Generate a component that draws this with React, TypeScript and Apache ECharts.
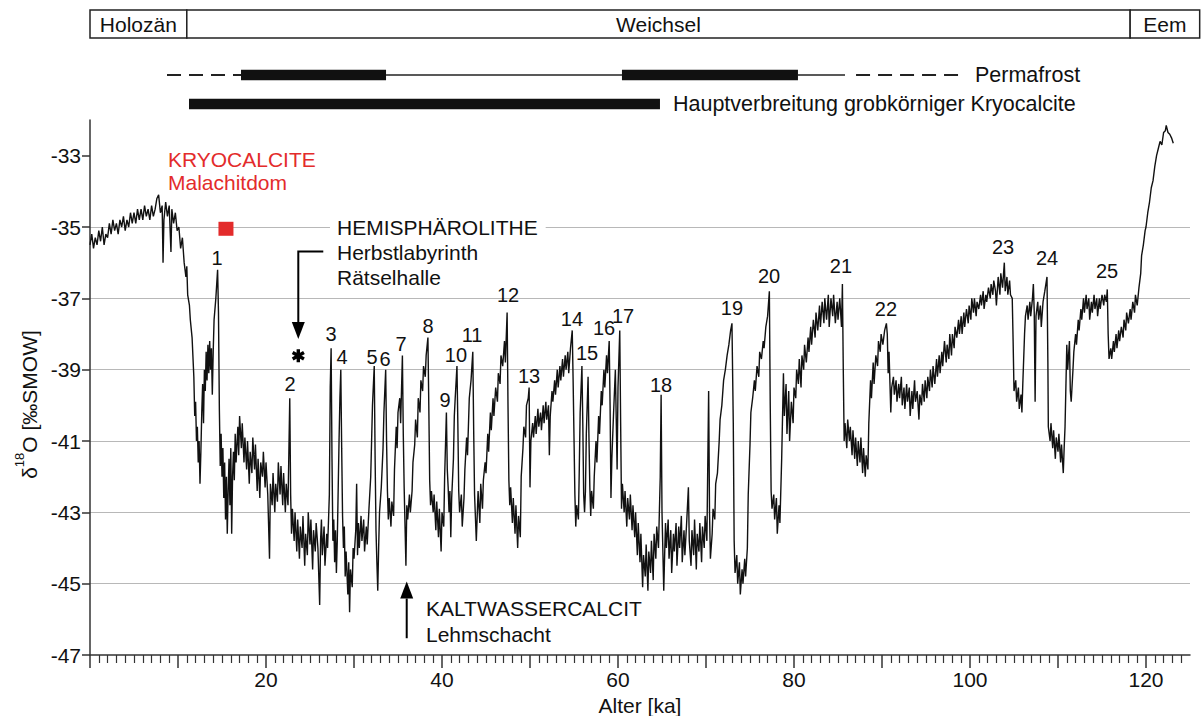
import React, { useEffect, useRef } from 'react';
import * as echarts from 'echarts';

const FONT = '"Liberation Sans", Arial, Helvetica, sans-serif';
const INK = '#111';
const RED = '#e32b2b';

// ---- δ18O record [age ka, δ18O ‰ SMOW] ----
const record0to20 = [
  [0.0,-35.5],[0.2,-35.2],[0.4,-35.6],[0.6,-35.3],[0.8,-35.5],[1.0,-35.1],[1.2,-35.4],[1.4,-35.0],[1.6,-35.5],[1.8,-35.2],
  [2.0,-35.3],[2.2,-34.9],[2.4,-35.2],[2.6,-34.8],[2.8,-35.1],[3.0,-34.9],[3.2,-35.2],[3.4,-34.8],[3.6,-35.0],[3.8,-34.7],
  [4.0,-35.1],[4.2,-34.8],[4.4,-35.0],[4.6,-34.6],[4.8,-34.9],[5.0,-34.6],[5.2,-34.9],[5.4,-34.5],[5.6,-34.8],[5.8,-34.5],
  [6.0,-34.8],[6.2,-34.4],[6.4,-34.7],[6.6,-34.5],[6.8,-34.8],[7.0,-34.4],[7.2,-34.7],[7.4,-34.5],[7.6,-34.2],[7.8,-34.1],
  [8.0,-34.6],[8.2,-34.4],[8.3,-36.0],[8.4,-34.8],[8.6,-34.3],[8.8,-34.7],[9.0,-34.4],[9.2,-35.7],[9.3,-34.5],[9.5,-34.9],
  [9.7,-34.6],[9.9,-35.1],[10.1,-35.0],[10.3,-35.6],[10.5,-35.3],[10.7,-36.0],[10.9,-36.4],[11.0,-36.1],[11.1,-36.9],[11.3,-37.2],
  [11.4,-37.6],[11.6,-38.1],[11.8,-39.2],[11.9,-40.3],[12.0,-39.9],[12.1,-41.0],[12.2,-40.6],[12.3,-41.6],[12.4,-41.0],[12.5,-42.2],
  [12.6,-41.3],[12.7,-40.2],[12.8,-39.4],[12.9,-40.5],[13.0,-39.0],[13.1,-39.6],[13.2,-38.5],[13.3,-39.3],[13.4,-38.3],[13.5,-39.1],
  [13.6,-38.2],[13.7,-39.0],[13.8,-38.4],[13.9,-39.7],[14.0,-38.5],[14.1,-37.6],[14.3,-37.0],[14.5,-36.2],[14.6,-37.4],[14.7,-40.1],
  [14.8,-41.7],[14.9,-40.8],[15.0,-42.0],[15.1,-41.2],[15.2,-42.6],[15.3,-41.6],[15.4,-43.2],[15.5,-42.0],[15.6,-43.6],[15.7,-42.4],
  [15.8,-41.5],[15.9,-42.8],[16.0,-41.2],[16.1,-43.6],[16.2,-42.0],[16.3,-41.3],[16.4,-42.1],[16.5,-40.8],[16.6,-41.6],[16.8,-40.6],
  [16.9,-41.4],[17.0,-40.3],[17.2,-41.2],[17.3,-40.5],[17.5,-41.6],[17.6,-40.9],[17.8,-41.8],[17.9,-41.0],[18.1,-42.2],[18.2,-41.3],
  [18.4,-41.9],[18.5,-40.9],[18.7,-41.8],[18.8,-41.1],[19.0,-42.4],[19.1,-41.5],[19.3,-42.6],[19.4,-41.6],[19.6,-42.0],[19.7,-41.3],
  [19.9,-42.3],
];
const record20to40 = [
  [20.0,-41.6],[20.2,-42.5],[20.4,-44.3],[20.5,-42.2],[20.7,-42.8],[20.8,-41.9],[21.0,-43.0],[21.1,-42.2],[21.3,-42.7],[21.4,-41.6],
  [21.6,-42.5],[21.7,-41.7],[21.9,-42.8],[22.0,-41.9],[22.2,-43.0],[22.3,-42.2],[22.5,-42.8],[22.7,-39.8],[22.8,-42.5],[22.9,-43.6],
  [23.0,-42.9],[23.2,-43.8],[23.3,-43.0],[23.5,-44.1],[23.6,-43.2],[23.8,-44.3],[23.9,-43.4],[24.1,-44.0],[24.2,-43.1],[24.4,-44.5],
  [24.5,-43.6],[24.7,-44.2],[24.8,-43.0],[25.0,-43.9],[25.1,-43.2],[25.3,-44.6],[25.4,-43.5],[25.6,-44.1],[25.7,-43.3],[25.9,-44.0],
  [26.1,-45.6],[26.2,-43.8],[26.3,-43.2],[26.4,-44.2],[26.6,-43.4],[26.7,-44.5],[26.9,-43.6],[27.0,-44.0],[27.2,-42.5],[27.3,-39.5],
  [27.4,-38.4],[27.5,-41.5],[27.6,-43.8],[27.7,-43.2],[27.8,-44.4],[27.9,-43.5],[28.0,-44.7],[28.1,-43.8],[28.3,-41.0],[28.4,-39.8],
  [28.5,-39.0],[28.6,-41.2],[28.7,-43.1],[28.8,-44.0],[28.9,-43.4],[29.0,-44.8],[29.1,-44.1],[29.3,-45.3],[29.4,-44.4],[29.5,-45.8],
  [29.6,-44.6],[29.8,-45.1],[29.9,-44.0],[30.0,-44.3],[30.2,-43.5],[30.3,-42.2],[30.4,-44.2],[30.5,-43.3],[30.6,-44.0],[30.8,-43.1],
  [30.9,-43.8],[31.1,-43.2],[31.2,-44.1],[31.4,-43.4],[31.5,-43.9],[31.7,-42.9],[31.9,-42.0],[32.0,-41.0],[32.1,-40.0],[32.3,-38.9],
  [32.4,-41.5],[32.5,-43.5],[32.6,-44.4],[32.7,-45.2],[32.8,-44.0],[32.9,-43.0],[33.1,-42.3],[33.3,-41.2],[33.4,-40.2],[33.6,-39.0],
  [33.7,-41.0],[33.8,-42.4],[33.9,-43.2],[34.0,-42.6],[34.2,-43.4],[34.3,-42.7],[34.5,-43.1],[34.6,-41.8],[34.8,-40.6],[34.9,-41.2],
  [35.0,-40.2],[35.2,-39.8],[35.3,-40.5],[35.5,-38.6],[35.6,-40.8],[35.7,-42.3],[35.9,-44.5],[36.0,-42.8],[36.1,-43.2],[36.3,-42.5],
  [36.4,-43.0],[36.6,-42.4],[36.7,-41.6],[36.9,-41.1],[37.0,-40.4],[37.2,-40.9],[37.3,-39.8],[37.5,-40.2],[37.6,-39.3],[37.8,-39.6],
  [37.9,-38.9],[38.1,-39.2],[38.2,-38.6],[38.4,-38.1],[38.5,-40.0],[38.6,-42.1],[38.7,-42.8],[38.8,-42.4],[39.0,-43.0],[39.1,-42.5],
  [39.3,-43.5],[39.4,-42.7],[39.6,-43.7],[39.7,-42.9],[39.9,-44.1],
];
const record40to60 = [
  [40.0,-43.0],[40.2,-43.4],[40.3,-42.0],[40.5,-40.2],[40.6,-41.8],[40.7,-42.3],[40.8,-43.0],[40.9,-42.4],[41.0,-43.7],[41.1,-42.6],
  [41.3,-41.5],[41.4,-40.3],[41.5,-39.8],[41.7,-38.9],[41.8,-40.5],[41.9,-42.4],[42.0,-43.0],[42.2,-42.5],[42.3,-43.4],[42.5,-42.6],
  [42.6,-41.8],[42.8,-40.9],[42.9,-41.4],[43.1,-39.8],[43.3,-39.3],[43.5,-38.5],[43.6,-40.7],[43.7,-42.5],[43.9,-43.8],[44.0,-43.1],
  [44.1,-42.4],[44.3,-43.3],[44.4,-42.2],[44.6,-42.9],[44.7,-42.1],[44.9,-41.6],[45.0,-41.9],[45.2,-40.8],[45.3,-41.3],[45.5,-40.2],
  [45.6,-40.7],[45.8,-39.8],[45.9,-40.3],[46.1,-39.5],[46.3,-39.9],[46.4,-39.1],[46.6,-39.4],[46.7,-38.6],[46.9,-38.9],[47.1,-38.2],
  [47.2,-38.8],[47.4,-37.4],[47.5,-40.0],[47.6,-42.1],[47.7,-42.8],[47.8,-42.3],[48.0,-43.3],[48.1,-42.6],[48.3,-43.6],[48.4,-42.8],
  [48.6,-44.0],[48.7,-43.1],[48.9,-43.7],[49.0,-42.0],[49.2,-41.2],[49.3,-40.6],[49.5,-40.9],[49.6,-40.0],[49.8,-39.8],[49.9,-39.5],
  [50.0,-42.3],[50.1,-41.0],[50.3,-40.5],[50.4,-40.9],[50.6,-40.3],[50.7,-40.8],[50.9,-40.1],[51.0,-40.6],[51.2,-40.2],[51.3,-40.7],
  [51.5,-40.0],[51.6,-40.5],[51.8,-39.9],[51.9,-40.4],[52.1,-40.0],[52.2,-41.4],[52.3,-40.3],[52.5,-39.6],[52.6,-39.9],[52.8,-39.3],
  [52.9,-39.7],[53.1,-39.0],[53.2,-39.5],[53.4,-38.9],[53.5,-39.3],[53.7,-38.7],[53.8,-39.2],[54.0,-38.6],[54.1,-39.0],[54.3,-38.5],
  [54.4,-39.1],[54.6,-38.4],[54.8,-37.9],[54.9,-39.3],[55.0,-40.9],[55.1,-42.5],[55.2,-43.4],[55.3,-42.8],[55.5,-43.2],[55.6,-41.8],
  [55.7,-40.2],[55.9,-38.9],[56.0,-40.5],[56.1,-42.5],[56.2,-43.0],[56.3,-42.4],[56.4,-40.8],[56.6,-39.2],[56.7,-40.9],[56.8,-42.3],
  [56.9,-43.1],[57.0,-42.4],[57.2,-42.9],[57.3,-42.0],[57.5,-41.0],[57.6,-41.6],[57.8,-40.3],[57.9,-40.8],[58.1,-39.6],[58.2,-40.0],
  [58.4,-39.0],[58.5,-39.5],[58.7,-38.6],[58.8,-39.1],[59.0,-38.2],[59.1,-40.0],[59.2,-42.6],[59.3,-41.5],[59.5,-40.2],[59.7,-39.0],
  [59.8,-40.4],[59.9,-41.8],
];
const record60to80 = [
  [60.0,-39.5],[60.2,-37.9],[60.3,-40.5],[60.4,-42.9],[60.5,-42.2],[60.7,-43.0],[60.8,-42.4],[61.0,-43.4],[61.1,-42.6],[61.3,-43.2],
  [61.4,-42.5],[61.6,-43.5],[61.7,-42.8],[61.9,-43.7],[62.0,-43.0],[62.2,-44.2],[62.3,-43.3],[62.5,-44.4],[62.6,-43.6],[62.8,-45.1],
  [62.9,-44.2],[63.1,-44.8],[63.2,-43.9],[63.4,-45.2],[63.5,-44.1],[63.7,-44.7],[63.8,-43.8],[64.0,-44.9],[64.1,-43.6],[64.3,-44.3],
  [64.4,-43.4],[64.6,-44.0],[64.8,-42.0],[64.9,-39.7],[65.0,-43.0],[65.2,-45.2],[65.3,-44.2],[65.4,-43.3],[65.5,-44.0],[65.7,-43.2],
  [65.8,-44.3],[66.0,-43.5],[66.1,-44.7],[66.3,-43.6],[66.4,-44.1],[66.6,-43.3],[66.7,-44.5],[66.9,-43.4],[67.0,-44.0],[67.2,-43.1],
  [67.3,-44.4],[67.5,-43.5],[67.6,-44.2],[67.8,-43.3],[68.0,-42.3],[68.1,-43.8],[68.3,-44.5],[68.4,-43.5],[68.6,-44.2],[68.7,-43.2],
  [68.9,-44.6],[69.0,-43.6],[69.2,-44.1],[69.3,-43.3],[69.5,-44.4],[69.6,-43.4],[69.8,-44.0],[69.9,-43.1],[70.1,-43.8],[70.3,-39.6],
  [70.4,-43.0],[70.5,-44.3],[70.7,-43.6],[70.8,-42.9],[71.0,-43.2],[71.1,-42.2],[71.3,-41.9],[71.5,-41.0],[71.6,-40.4],[71.8,-40.0],
  [72.0,-39.3],[72.2,-39.0],[72.4,-38.6],[72.6,-38.3],[72.8,-37.9],[72.95,-37.7],[73.1,-40.5],[73.2,-43.8],[73.3,-44.7],[73.5,-44.2],
  [73.6,-45.0],[73.8,-44.4],[73.9,-45.3],[74.1,-44.6],[74.2,-45.0],[74.4,-44.3],[74.5,-44.8],[74.7,-44.0],[74.8,-42.5],[75.0,-41.1],
  [75.1,-40.2],[75.3,-39.8],[75.5,-39.3],[75.6,-39.6],[75.8,-38.9],[76.0,-39.2],[76.1,-38.5],[76.3,-38.7],[76.5,-38.2],[76.6,-38.4],
  [76.8,-37.8],[77.0,-37.5],[77.2,-36.8],[77.3,-40.0],[77.4,-42.4],[77.5,-42.9],[77.7,-42.5],[77.8,-43.2],[78.0,-42.6],[78.1,-43.6],
  [78.3,-42.8],[78.4,-43.3],[78.6,-41.5],[78.8,-39.1],[78.9,-40.3],[79.1,-39.4],[79.2,-40.8],[79.4,-39.6],[79.5,-41.0],[79.7,-39.9],
  [79.9,-40.5],
];
const record80to100 = [
  [80.0,-39.5],[80.2,-39.8],[80.3,-39.0],[80.5,-39.4],[80.6,-38.7],[80.8,-39.5],[80.9,-38.6],[81.1,-39.0],[81.2,-38.3],[81.4,-38.8],
  [81.6,-38.1],[81.7,-38.5],[81.9,-37.8],[82.0,-38.3],[82.2,-37.6],[82.4,-38.1],[82.5,-37.4],[82.7,-37.9],[82.9,-37.2],[83.0,-37.8],
  [83.2,-37.1],[83.4,-37.7],[83.5,-37.0],[83.7,-37.6],[83.9,-36.9],[84.0,-37.8],[84.2,-37.0],[84.4,-37.5],[84.5,-36.9],[84.7,-37.7],
  [84.9,-37.1],[85.0,-37.6],[85.2,-37.0],[85.4,-37.8],[85.5,-36.6],[85.6,-39.0],[85.7,-41.0],[85.8,-40.5],[86.0,-41.2],[86.1,-40.4],
  [86.3,-41.0],[86.4,-40.6],[86.6,-41.4],[86.7,-40.7],[86.9,-41.5],[87.0,-40.9],[87.2,-41.7],[87.3,-41.0],[87.5,-41.6],[87.6,-40.9],
  [87.8,-41.9],[87.9,-41.2],[88.1,-42.0],[88.2,-41.4],[88.4,-41.8],[88.5,-40.5],[88.7,-39.3],[88.8,-39.8],[89.0,-38.8],[89.1,-39.4],
  [89.3,-38.6],[89.5,-38.9],[89.6,-38.2],[89.8,-38.5],[89.9,-38.0],[90.1,-38.3],[90.3,-37.9],[90.5,-37.7],[90.6,-38.0],[90.7,-39.1],
  [90.8,-38.5],[91.0,-40.2],[91.1,-39.5],[91.3,-39.2],[91.4,-39.7],[91.6,-39.3],[91.7,-39.9],[91.9,-39.4],[92.0,-39.8],[92.2,-39.2],
  [92.3,-40.0],[92.5,-39.5],[92.6,-40.1],[92.8,-39.4],[92.9,-39.9],[93.1,-39.5],[93.2,-40.3],[93.4,-39.6],[93.5,-40.1],[93.7,-39.3],
  [93.8,-39.9],[94.0,-39.6],[94.2,-40.4],[94.3,-39.7],[94.5,-40.0],[94.6,-39.4],[94.8,-39.9],[94.9,-39.3],[95.1,-39.8],[95.2,-39.2],
  [95.4,-39.6],[95.5,-39.0],[95.7,-39.5],[95.8,-38.9],[96.0,-39.4],[96.2,-38.7],[96.3,-39.2],[96.5,-38.6],[96.6,-39.1],[96.8,-38.5],
  [96.9,-38.9],[97.1,-38.2],[97.3,-38.8],[97.4,-38.3],[97.6,-38.7],[97.7,-38.0],[97.9,-38.6],[98.0,-38.0],[98.2,-38.4],[98.3,-37.8],
  [98.5,-38.1],[98.7,-37.6],[98.8,-38.0],[99.0,-37.5],[99.1,-38.0],[99.3,-37.4],[99.4,-37.8],[99.6,-37.3],[99.8,-37.7],[99.9,-37.2],
];
const record100to123 = [
  [100.1,-37.6],[100.2,-37.0],[100.4,-37.4],[100.5,-37.0],[100.7,-37.5],[100.8,-37.1],[101.0,-37.3],[101.2,-36.9],[101.3,-37.2],[101.5,-36.8],
  [101.6,-37.3],[101.8,-36.9],[101.9,-37.1],[102.1,-36.7],[102.3,-37.0],[102.4,-36.6],[102.6,-36.9],[102.7,-36.5],[102.9,-36.8],[103.0,-37.2],
  [103.2,-36.4],[103.4,-36.9],[103.5,-36.3],[103.7,-36.7],[103.9,-36.0],[104.0,-36.8],[104.2,-36.4],[104.3,-36.9],[104.5,-36.5],[104.6,-36.9],
  [104.8,-37.0],[104.9,-38.2],[105.0,-39.6],[105.2,-39.3],[105.3,-39.9],[105.5,-39.5],[105.6,-40.1],[105.8,-39.7],[105.9,-40.2],[106.0,-39.4],
  [106.2,-38.0],[106.3,-37.5],[106.5,-37.2],[106.6,-37.6],[106.8,-37.1],[106.9,-37.5],[107.1,-37.0],[107.2,-36.6],[107.3,-37.4],[107.4,-39.9],
  [107.5,-37.5],[107.7,-37.1],[107.8,-37.6],[108.0,-37.2],[108.1,-37.8],[108.3,-37.1],[108.5,-36.8],[108.75,-36.4],[108.85,-38.8],[108.9,-40.6],
  [109.1,-41.0],[109.2,-40.5],[109.4,-41.2],[109.5,-40.7],[109.7,-41.5],[109.8,-40.9],[110.0,-41.3],[110.1,-40.8],[110.3,-41.6],[110.4,-41.1],
  [110.6,-41.9],[110.7,-41.2],[110.8,-40.6],[111.0,-38.3],[111.1,-39.0],[111.3,-38.2],[111.4,-39.6],[111.5,-39.9],[111.7,-39.0],[111.8,-38.5],
  [112.0,-38.0],[112.1,-38.3],[112.3,-37.6],[112.4,-37.9],[112.6,-37.3],[112.7,-37.6],[112.9,-37.0],[113.0,-37.4],[113.2,-36.9],[113.3,-37.3],
  [113.5,-37.0],[113.6,-37.6],[113.8,-37.1],[113.9,-37.4],[114.1,-36.9],[114.2,-37.3],[114.4,-37.0],[114.5,-37.5],[114.7,-37.0],[114.8,-37.3],
  [115.0,-36.9],[115.2,-37.2],[115.3,-36.9],[115.5,-37.1],[115.6,-36.75],[115.7,-38.0],[115.8,-38.7],[116.0,-38.4],[116.1,-38.7],[116.3,-38.2],
  [116.4,-38.5],[116.6,-38.0],[116.7,-38.4],[116.9,-37.9],[117.0,-38.2],[117.2,-37.8],[117.4,-38.1],[117.5,-37.6],[117.7,-37.9],[117.8,-37.4],
  [118.0,-37.7],[118.2,-37.3],[118.3,-37.6],[118.5,-37.1],[118.7,-37.4],[118.8,-36.9],[119.0,-37.2],[119.2,-36.7],[119.4,-36.3],[119.5,-35.8],
  [119.7,-35.5],[119.9,-35.1],[120.0,-35.0],[120.2,-34.6],[120.4,-34.3],[120.6,-33.9],[120.8,-33.7],[121.0,-33.3],[121.2,-33.0],[121.4,-32.8],
  [121.6,-32.6],[121.8,-32.7],[122.0,-32.35],[122.2,-32.3],[122.3,-32.15],[122.5,-32.35],[122.7,-32.4],[122.9,-32.5],[123.1,-32.65],
];
const record = [...record0to20, ...record20to40, ...record40to60, ...record60to80, ...record80to100, ...record100to123];

// ---- axis ticks ----
const yTickValues = [-47, -45, -43, -41, -39, -37, -35, -33];
const xMajorTicks = [0, 10, 20, 30, 40, 50, 60, 70, 80, 90, 100, 110, 120];
const xLabelValues = [20, 40, 60, 80, 100, 120];

// ---- numbered events ----
const eventNames = ['1','2','3','4','5','6','7','8','9','10','11','12','13','14','15','16','17','18','19','20','21','22','23','24','25'];
const eventLabelAges = [14.43,22.73,27.39,28.64,32.05,33.52,35.34,38.41,40.34,41.59,43.41,47.5,49.89,54.77,56.48,58.41,60.57,64.89,72.95,77.16,85.34,90.45,103.75,108.75,115.57];
const eventLabelValues = [-35.86,-39.4,-37.99,-38.64,-38.64,-38.7,-38.27,-37.77,-39.85,-38.58,-38.02,-36.9,-39.17,-37.57,-38.53,-37.83,-37.49,-39.43,-37.26,-36.37,-36.09,-37.29,-35.55,-35.86,-36.23];

// ---- samples ----
const kryocalciteSample = [[15.45, -35.05]];
const hemispheroliteSample = [[23.67, -38.61]];

// ---- annotations ----
const annotationTexts = ['KRYOCALCITE', 'Malachitdom', 'HEMISPHÄROLITHE', 'Herbstlabyrinth', 'Rätselhalle', 'KALTWASSERCALCIT', 'Lehmschacht'];
const annotationAges = [7.95, 7.95, 27.27, 27.27, 28.07, 38.18, 38.18];
const annotationValues = [-33.11, -33.76, -35.01, -35.71, -36.42, -45.71, -46.43];
const arrowPaths = [
  [[26.51, -35.69], [23.67, -35.69], [23.67, -38.14]],
  [[35.99, -46.53], [35.99, -44.94]],
];

// ---- header: stratigraphy, permafrost, kryocalcite ----
const epochNames = ['Holozän', 'Weichsel', 'Eem'];
const epochStart = [0, 11.0, 118.2];
const epochEnd = [11.0, 118.2, 126.1];
const permafrostStart = [8.75, 17.16, 33.64, 60.45, 80.45, 87.05];
const permafrostEnd = [17.16, 33.64, 60.45, 80.45, 85.8, 99.43];
const permafrostKind = ['dashed', 'thick', 'thin', 'thick', 'thin', 'dashed'];
const permafrostLabel = 'Permafrost';
const kryoStart = [11.25];
const kryoEnd = [64.77];
const kryoLabel = 'Hauptverbreitung grobkörniger Kryocalcite';

// styles / layout (pixels in header grid)
const HEADER = { boxTop: 10, boxBottom: 38, permafrostY: 75, kryoY: 104, barH: 10.5 };
const ANNOT_STYLE = [
  { color: RED, bg: '#fff', pad: [2, 10, 2, 8] },
  { color: RED, bg: '#fff', pad: [2, 6, 2, 8] },
  { color: INK, bg: '#fff', pad: [2, 8, 2, 7] },
  { color: INK, bg: '#fff', pad: [2, 30, 2, 7] },
  { color: INK, bg: null, pad: 0 },
  { color: INK, bg: null, pad: 0 },
  { color: INK, bg: null, pad: 0 },
];

const ASTERISK = 'path://M-1.3,-5L1.3,-5L1.3,5L-1.3,5Z M4.98,-1.37L-3.68,3.63L-4.98,1.37L3.68,-3.63Z M-4.98,-1.37L-3.68,-3.63L4.98,1.37L3.68,3.63Z';

function buildOption(): any {
  const axisColor = '#333';
  return {
    animation: false,
    backgroundColor: '#fff',
    grid: [
      { left: 90, right: 13, top: 120, bottom: 61, containLabel: false, outerBoundsMode: 'none' },
      { left: 90, right: 13, top: 0, height: 120, containLabel: false, outerBoundsMode: 'none' },
    ],
    xAxis: [
      {
        type: 'value', gridIndex: 0, min: 0, max: 125, interval: 10,
        name: 'Alter [ka]', nameLocation: 'middle', nameGap: 40,
        nameTextStyle: { fontSize: 21, fontFamily: FONT, color: INK },
        axisLine: { show: true, lineStyle: { color: axisColor, width: 1.5 } },
        axisTick: { show: true, customValues: xMajorTicks, length: 13, lineStyle: { color: axisColor, width: 1.5 } },
        minorTick: { show: true, splitNumber: 10, length: 8, lineStyle: { color: axisColor, width: 1.2 } },
        axisLabel: { customValues: xLabelValues, fontSize: 21, fontFamily: FONT, color: INK, margin: 14 },
        splitLine: { show: false },
      },
      { type: 'value', gridIndex: 1, min: 0, max: 125, show: false },
    ],
    yAxis: [
      {
        type: 'value', gridIndex: 0, min: -47, max: -32, interval: 1,
        name: '{a|δ}{b|18}{a|O [‰SMOW]}', nameLocation: 'middle', nameGap: 46, nameRotate: 90,
        nameTextStyle: {
          padding: [0, 34, 0, 0],
          rich: {
            a: { fontSize: 21, fontFamily: FONT, color: INK, lineHeight: 27, verticalAlign: 'bottom' },
            b: { fontSize: 13, fontFamily: FONT, color: INK, lineHeight: 27, verticalAlign: 'top' },
          },
        },
        axisLine: { show: true, lineStyle: { color: axisColor, width: 1.5 } },
        axisTick: { show: true, customValues: yTickValues, length: 8, lineStyle: { color: axisColor, width: 1.5 } },
        axisLabel: { customValues: yTickValues, fontSize: 21, fontFamily: FONT, color: INK, margin: 9 },
        splitLine: { show: true, showMinLine: false, showMaxLine: false, lineStyle: { color: '#b8b8b8', width: 1 } },
      },
      { type: 'value', gridIndex: 1, min: 0, max: 120, inverse: true, show: false },
    ],
    series: [
      {
        type: 'line', xAxisIndex: 0, yAxisIndex: 0, data: record, showSymbol: false, symbol: 'none',
        lineStyle: { color: INK, width: 1.4 }, z: 2, silent: true,
      },
      {
        type: 'scatter', xAxisIndex: 0, yAxisIndex: 0, data: kryocalciteSample, symbol: 'rect', symbolSize: [15, 14],
        itemStyle: { color: RED, opacity: 1 }, z: 4, silent: true,
      },
      {
        type: 'scatter', xAxisIndex: 0, yAxisIndex: 0, data: hemispheroliteSample, symbol: ASTERISK, symbolSize: [13, 13],
        itemStyle: { color: '#000', opacity: 1 }, z: 4, silent: true,
      },
      {
        type: 'custom', xAxisIndex: 0, yAxisIndex: 0, clip: false, z: 4, silent: true,
        data: arrowPaths.map((p) => p[p.length - 1]),
        renderItem: (params: any, api: any) => {
          const pts = arrowPaths[params.dataIndex].map((p) => api.coord(p));
          const n = pts.length;
          const tip = pts[n - 1];
          const prev = pts[n - 2];
          const dx = tip[0] - prev[0];
          const dy = tip[1] - prev[1];
          const len = Math.hypot(dx, dy) || 1;
          const ux = dx / len;
          const uy = dy / len;
          const headLen = 17;
          const headW = 6.5;
          const base = [tip[0] - ux * headLen, tip[1] - uy * headLen];
          const linePts = pts.slice(0, n - 1).concat([base]);
          return {
            type: 'group',
            children: [
              { type: 'polyline', shape: { points: linePts }, style: { stroke: '#000', lineWidth: 2, fill: null } },
              {
                type: 'polygon',
                shape: { points: [tip, [base[0] - uy * headW, base[1] + ux * headW], [base[0] + uy * headW, base[1] - ux * headW]] },
                style: { fill: '#000' },
              },
            ],
          };
        },
      },
      {
        type: 'custom', xAxisIndex: 0, yAxisIndex: 0, clip: false, z: 5, silent: true,
        data: annotationAges.map((a, i) => [a, annotationValues[i]]),
        renderItem: (params: any, api: any) => {
          const i = params.dataIndex;
          const c = api.coord([annotationAges[i], annotationValues[i]]);
          const s = ANNOT_STYLE[i];
          const style: any = {
            text: annotationTexts[i], x: c[0], y: c[1], align: 'left', verticalAlign: 'middle',
            fontSize: 21, fontFamily: FONT, fill: s.color, lineHeight: 22,
          };
          if (s.bg) { style.backgroundColor = s.bg; style.padding = s.pad; }
          return { type: 'text', style };
        },
      },
      {
        type: 'custom', xAxisIndex: 0, yAxisIndex: 0, clip: false, z: 5, silent: true,
        data: eventLabelAges.map((a, i) => [a, eventLabelValues[i]]),
        renderItem: (params: any, api: any) => {
          const i = params.dataIndex;
          const c = api.coord([eventLabelAges[i], eventLabelValues[i]]);
          return {
            type: 'text',
            style: { text: eventNames[i], x: c[0], y: c[1], align: 'center', verticalAlign: 'middle', fontSize: 20, fontFamily: FONT, fill: INK },
          };
        },
      },
      // header: stratigraphic boxes
      {
        type: 'custom', xAxisIndex: 1, yAxisIndex: 1, clip: false, z: 3, silent: true,
        data: epochStart.map((s, i) => [s, epochEnd[i]]),
        renderItem: (params: any, api: any) => {
          const i = params.dataIndex;
          const x1 = api.coord([epochStart[i], 0])[0];
          const x2 = api.coord([epochEnd[i], 0])[0];
          const y1 = api.coord([0, HEADER.boxTop])[1];
          const y2 = api.coord([0, HEADER.boxBottom])[1];
          return {
            type: 'group',
            children: [
              { type: 'rect', shape: { x: x1, y: y1, width: x2 - x1, height: y2 - y1 }, style: { fill: '#fff', stroke: '#222', lineWidth: 1.5 } },
              { type: 'text', style: { text: epochNames[i], x: (x1 + x2) / 2, y: (y1 + y2) / 2, align: 'center', verticalAlign: 'middle', fontSize: 21, fontFamily: FONT, fill: INK } },
            ],
          };
        },
      },
      // header: permafrost
      {
        type: 'custom', xAxisIndex: 1, yAxisIndex: 1, clip: false, z: 3, silent: true,
        data: permafrostStart.map((s, i) => [s, permafrostEnd[i]]),
        renderItem: (params: any, api: any) => {
          const i = params.dataIndex;
          const x1 = api.coord([permafrostStart[i], 0])[0];
          const x2 = api.coord([permafrostEnd[i], 0])[0];
          const y = api.coord([0, HEADER.permafrostY])[1];
          const kind = permafrostKind[i];
          const children: any[] = [];
          if (kind === 'thick') {
            children.push({ type: 'rect', shape: { x: x1, y: y - HEADER.barH / 2, width: x2 - x1, height: HEADER.barH }, style: { fill: INK } });
          } else if (kind === 'thin') {
            children.push({ type: 'line', shape: { x1, y1: y, x2, y2: y }, style: { stroke: '#222', lineWidth: 1.5 } });
          } else {
            children.push({ type: 'line', shape: { x1, y1: y, x2, y2: y }, style: { stroke: '#222', lineWidth: 2, lineDash: [14, 8] } });
          }
          if (i === permafrostStart.length - 1) {
            children.push({ type: 'text', style: { text: permafrostLabel, x: x2 + 10, y, align: 'left', verticalAlign: 'middle', fontSize: 21.5, fontFamily: FONT, fill: INK } });
          }
          return { type: 'group', children };
        },
      },
      // header: coarse kryocalcite distribution
      {
        type: 'custom', xAxisIndex: 1, yAxisIndex: 1, clip: false, z: 3, silent: true,
        data: kryoStart.map((s, i) => [s, kryoEnd[i]]),
        renderItem: (params: any, api: any) => {
          const i = params.dataIndex;
          const x1 = api.coord([kryoStart[i], 0])[0];
          const x2 = api.coord([kryoEnd[i], 0])[0];
          const y = api.coord([0, HEADER.kryoY])[1];
          return {
            type: 'group',
            children: [
              { type: 'rect', shape: { x: x1, y: y - HEADER.barH / 2, width: x2 - x1, height: HEADER.barH }, style: { fill: INK } },
              { type: 'text', style: { text: kryoLabel, x: x2 + 13, y, align: 'left', verticalAlign: 'middle', fontSize: 21.5, fontFamily: FONT, fill: INK } },
            ],
          };
        },
      },
    ],
  };
}

export default function App() {
  const ref = useRef<HTMLDivElement>(null);
  useEffect(() => {
    if (!ref.current) return;
    const chart = echarts.init(ref.current, null, { renderer: 'svg' });
    chart.setOption(buildOption());
    return () => chart.dispose();
  }, []);
  return <div ref={ref} style={{ position: 'absolute', left: 0, top: 0, width: 1203, height: 716 }} />;
}
